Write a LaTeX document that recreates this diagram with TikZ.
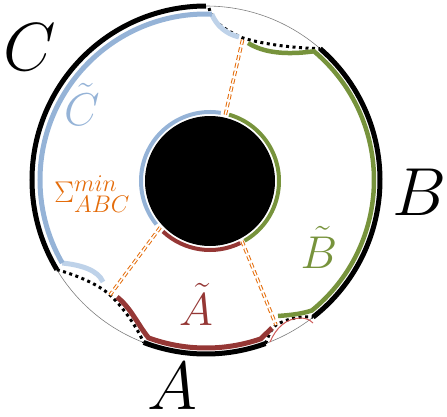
\documentclass[tikz,border=0pt]{standalone}
\usepackage{fix-cm}
\usepackage{amsmath,amssymb}
\usepackage{tikz}
\DeclareMathSizes{30}{30}{24}{18}
\definecolor{ctil}{RGB}{149,179,215}
\definecolor{ctilpale}{RGB}{190,210,233}
\definecolor{btil}{RGB}{119,147,60}
\definecolor{atil}{RGB}{149,55,53}
\definecolor{atilthin}{RGB}{205,90,88}
\definecolor{sigmin}{RGB}{228,108,10}

\begin{document}
\begin{tikzpicture}[x=1pt,y=1pt,
  bdy/.style={line width=5pt,black},
  reg/.style={line width=5pt},
  ring/.style={line width=4pt},
  gap/.style={line width=3pt,dash pattern=on 3pt off 3.5pt},
  cut/.style={draw=sigmin,line width=1pt,double=white,double distance=1.5pt,dash pattern=on 5pt off 3pt},
  lbl/.style={inner sep=0pt,anchor=base}]
\useasboundingbox (-206,-236) rectangle (241,180);
\coordinate (O) at (0,0);
\coordinate (D) at (4,-1);
\coordinate (jT) at (37,142);
\coordinate (jL) at (-96,-115);
\coordinate (jR) at (70,-145);
\coordinate (iT) at ([shift={(77:68)}]D);
\coordinate (iL) at ([shift={(223:68)}]D);
\coordinate (iR) at ([shift={(-62:68)}]D);
\draw[gray,line width=0.6pt] (O) circle (174);
\fill (D) circle (65);
\draw[ring,ctil] ([shift={(81:69)}]D) arc (81:219:69);
\draw[ring,atil] ([shift={(227:69)}]D) arc (227:296:69);
\draw[ring,btil] ([shift={(-60:69)}]D) arc (-60:74:69);
\draw[bdy] (90:174) arc (90:211:174);
\draw[bdy] (49:174) arc (49:-52:174);
\draw[bdy] (-111:174) arc (-111:-70:174);
\draw[gap] (89:172) .. controls (5,160) and (18,150) .. (jT) .. controls (60,135) and (90,132) .. (49:174);
\draw[gap] (211:174) .. controls (-130,-95) and (-108,-104) .. (jL) .. controls (-85,-125) and (-70,-145) .. (-111:174);
\draw[gap] (-70:174) .. controls (64,-152) and (66,-148) .. (jR) .. controls (82,-138) and (96,-136) .. (-52:174);
\draw[reg,ctilpale] (88:166) .. controls (10,155) and (20,146) .. (33,143);
\draw[reg,ctilpale] (210:166) .. controls (-125,-85) and (-108,-90) .. (-103,-102);
\draw[reg,ctil] (88:166) arc (88:210:166);
\draw[reg,btil,line width=4.5pt] (42,137) .. controls (58,127) and (80,125) .. (50:168) arc (50:-51:168) .. controls (95,-134) and (85,-135) .. (72,-136);
\draw[reg,atil] (-89,-117) .. controls (-75,-128) and (-68,-145) .. (-110:168) arc (-110:-71:168) -- (66,-148);
\draw[atilthin,line width=1pt] (64,-162) .. controls (70,-148) and (80,-138) .. (95,-138) .. controls (100,-138) and (104,-140) .. (107,-143);
\draw[cut] (iT) -- (jT);
\draw[cut] (iL) -- (jL);
\draw[cut] (iR) -- (jR);
\node[lbl,font=\fontsize{68}{68}\selectfont] (lblC) at (-176,110) {$C$};
\node[lbl,font=\fontsize{68}{68}\selectfont] (lblB) at (214,-35) {$B$};
\node[lbl,font=\fontsize{68}{68}\selectfont] (lblA) at (-34,-229) {$A$};
\node[lbl,ctil,font=\fontsize{46}{46}\selectfont] (lblCt) at (-124,55) {$\tilde{C}$};
\node[lbl,btil,font=\fontsize{46}{46}\selectfont] (lblBt) at (113,-88) {$\tilde{B}$};
\node[lbl,atil,font=\fontsize{46}{46}\selectfont] (lblAt) at (-10,-145) {$\tilde{A}$};
\node[lbl,sigmin,font=\fontsize{30}{30}\selectfont] (lblS) at (-114,-22) {$\Sigma^{min}_{ABC}$};
\end{tikzpicture}
\end{document}
